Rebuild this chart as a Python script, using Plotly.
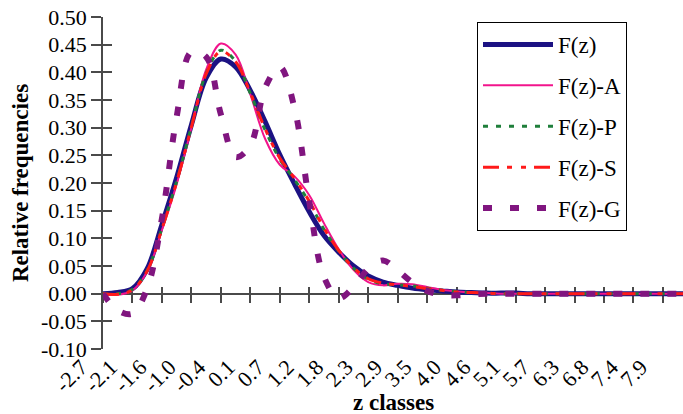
import plotly.graph_objects as go

# class positions (class index units; labelled class i sits at position i)
class_pos = [0.5, 1.0, 1.5, 2.0, 2.5, 3.0, 3.5, 4.0, 4.5, 5.0,
             5.5, 6.0, 6.5, 7.0, 7.5, 8.0, 8.5, 9.0, 9.5, 10.0,
             10.5, 11.0, 11.5, 12.0, 12.5, 13.0, 13.5, 14.0, 14.5, 15.0,
             15.5, 16.0, 16.5, 17.0, 17.5, 18.0, 18.5, 19.0, 19.5, 20.0, 20.5]

z_labels = ["-2.7", "-2.1", "-1.6", "-1.0", "-0.4", "0.1", "0.7", "1.2", "1.8", "2.3",
            "2.9", "3.5", "4.0", "4.6", "5.1", "5.7", "6.3", "6.8", "7.4", "7.9"]
z_label_pos = list(range(len(z_labels)))
class_bounds = [i + 0.5 for i in range(len(z_labels))]

F = [0.000, 0.002, 0.009, 0.045, 0.125, 0.210, 0.305, 0.390, 0.424, 0.410,
     0.367, 0.311, 0.251, 0.198, 0.148, 0.105, 0.075, 0.050, 0.032, 0.021,
     0.015, 0.010, 0.007, 0.005, 0.003, 0.002, 0.001, 0.001, 0.001, 0.000,
     0.000, 0.000, 0.000, 0.000, 0.000, 0.000, 0.000, 0.000, 0.000, 0.000, 0.000]
F_A = [-0.002, -0.002, 0.006, 0.040, 0.115, 0.198, 0.300, 0.405, 0.452, 0.432,
       0.360, 0.280, 0.233, 0.212, 0.178, 0.127, 0.080, 0.043, 0.021, 0.015,
       0.018, 0.017, 0.012, 0.007, 0.004, 0.002, 0.001, 0.000, 0.000, 0.000,
       0.000, 0.000, 0.000, 0.000, 0.000, 0.000, 0.000, 0.000, 0.000, 0.000, 0.000]
F_P = [0.000, 0.000, 0.008, 0.042, 0.118, 0.203, 0.302, 0.398, 0.440, 0.420,
       0.362, 0.296, 0.243, 0.206, 0.165, 0.116, 0.077, 0.046, 0.026, 0.018,
       0.016, 0.014, 0.010, 0.006, 0.004, 0.002, 0.001, 0.000, 0.000, 0.000,
       0.000, 0.000, 0.000, 0.000, 0.000, 0.000, 0.000, 0.000, 0.000, 0.000, 0.000]
F_S = [0.000, -0.001, 0.007, 0.041, 0.117, 0.202, 0.301, 0.397, 0.438, 0.419,
       0.363, 0.298, 0.245, 0.208, 0.167, 0.118, 0.078, 0.047, 0.027, 0.019,
       0.016, 0.013, 0.009, 0.006, 0.003, 0.002, 0.001, 0.000, 0.000, 0.000,
       0.000, 0.000, 0.000, 0.000, 0.000, 0.000, 0.000, 0.000, 0.000, 0.000, 0.000]
F_G = [0.000, -0.030, -0.036, 0.010, 0.136, 0.320, 0.437, 0.428, 0.324, 0.247,
       0.268, 0.372, 0.410, 0.335, 0.166, 0.030, -0.008, 0.012, 0.045, 0.060,
       0.042, 0.020, 0.005, -0.002, -0.003, -0.001, 0.000, 0.000, 0.000, 0.000,
       0.000, 0.000, 0.000, 0.000, 0.000, 0.000, 0.000, 0.000, 0.000, 0.000, 0.000]

y_ticks = [-0.10, -0.05, 0.00, 0.05, 0.10, 0.15, 0.20, 0.25, 0.30, 0.35, 0.40, 0.45, 0.50]
y_ticktext = ["-0.10", "-0.05", "0.00", "0.05", "0.10", "0.15", "0.20", "0.25",
              "0.30", "0.35", "0.40", "0.45", "0.50"]

series = [
    ("F(z)", F, dict(color="#1c1283", width=5)),
    ("F(z)-A", F_A, dict(color="#f2148c", width=2)),
    ("F(z)-P", F_P, dict(color="#1f7f3b", width=3, dash="5px,8px")),
    ("F(z)-S", F_S, dict(color="#ff1a1a", width=3, dash="16px,8px,5px,9px,5px,8px")),
    ("F(z)-G", F_G, dict(color="#80157f", width=6, dash="9px,18px")),
]

W, H = 683, 414
FONT = "Liberation Serif"

fig = go.Figure()
for name, vals, ln in series:
    fig.add_trace(go.Scatter(x=class_pos, y=vals, mode="lines", name=name,
                             legendgroup=name,
                             line=dict(shape="spline", smoothing=1.0, **ln),
                             xaxis="x", yaxis="y"))

# empty helper traces so the extra axes (labels, crossing ticks) are drawn
for xa, ya in (("x2", "y"), ("x3", "y"), ("x", "y2")):
    fig.add_trace(go.Scatter(x=[], y=[], xaxis=xa, yaxis=ya, showlegend=False,
                             hoverinfo="skip", mode="lines"))

def px(v):
    return v / W

def py(v):
    return 1 - v / H

step = 29.47
x_left = px(103)
xr = [0.5, 0.5 + (683 - 103) / step]
lab_shift = 0.24  # label anchor offset, in class units

axis_col = "#4a4a4a"
common = dict(automargin=False, showgrid=False, zeroline=False)
fig.update_layout(
    width=W, height=H,
    margin=dict(l=0, r=0, t=0, b=0, autoexpand=False),
    paper_bgcolor="white", plot_bgcolor="rgba(0,0,0,0)",
    font=dict(family=FONT, size=22, color="black"),
    showlegend=True,
    xaxis=dict(domain=[x_left, 1], range=xr, anchor="free", position=py(294),
               showline=True, linecolor=axis_col, linewidth=1.5,
               ticks="outside", ticklen=8, tickwidth=1.5, tickcolor=axis_col,
               tickvals=class_bounds, showticklabels=False,
               layer="below traces", **common),
    xaxis3=dict(overlaying="x", matches="x", anchor="free", position=py(294),
                showline=False, ticks="inside", ticklen=7, tickwidth=1.5,
                tickcolor=axis_col, tickvals=class_bounds, showticklabels=False,
                layer="below traces", **common),
    xaxis2=dict(domain=[px(103 - step), 1],
                range=[xr[0] - 1 + lab_shift, xr[1] + lab_shift],
                anchor="y", showline=False, ticks="",
                tickvals=z_label_pos, ticktext=z_labels, tickangle=-45,
                tickfont=dict(family=FONT, size=22), ticklabeloverflow="allow",
                **common),
    yaxis=dict(domain=[py(349), py(17)], range=[-0.1, 0.5], anchor="x",
               showline=True, linecolor=axis_col, linewidth=1.5,
               ticks="outside", ticklen=10, tickwidth=1.5, tickcolor=axis_col,
               tickvals=y_ticks, ticktext=y_ticktext,
               tickfont=dict(family=FONT, size=22), ticklabeloverflow="allow",
               layer="below traces",
               title=dict(text="<b>Relative frequencies</b>",
                          font=dict(family=FONT, size=23), standoff=6),
               **common),
    yaxis2=dict(overlaying="y", matches="y", anchor="x", side="left",
                showline=False, ticks="inside", ticklen=9, tickwidth=1.5,
                tickcolor=axis_col, tickvals=y_ticks, showticklabels=False,
                layer="below traces", **common),
    legend=dict(x=px(477), y=py(22), xanchor="left", yanchor="top",
                bgcolor="white", bordercolor="black", borderwidth=1,
                font=dict(family=FONT, size=23, color="black"),
                tracegroupgap=8, itemwidth=70),
    annotations=[dict(text="<b>z classes</b>", xref="paper", yref="paper",
                      x=px(393), y=py(402), xanchor="center", yanchor="middle",
                      showarrow=False, font=dict(family=FONT, size=23))],
)

fig.write_html("out.html",
               config={"displayModeBar": False},
               post_script="document.body.style.margin='0';")
